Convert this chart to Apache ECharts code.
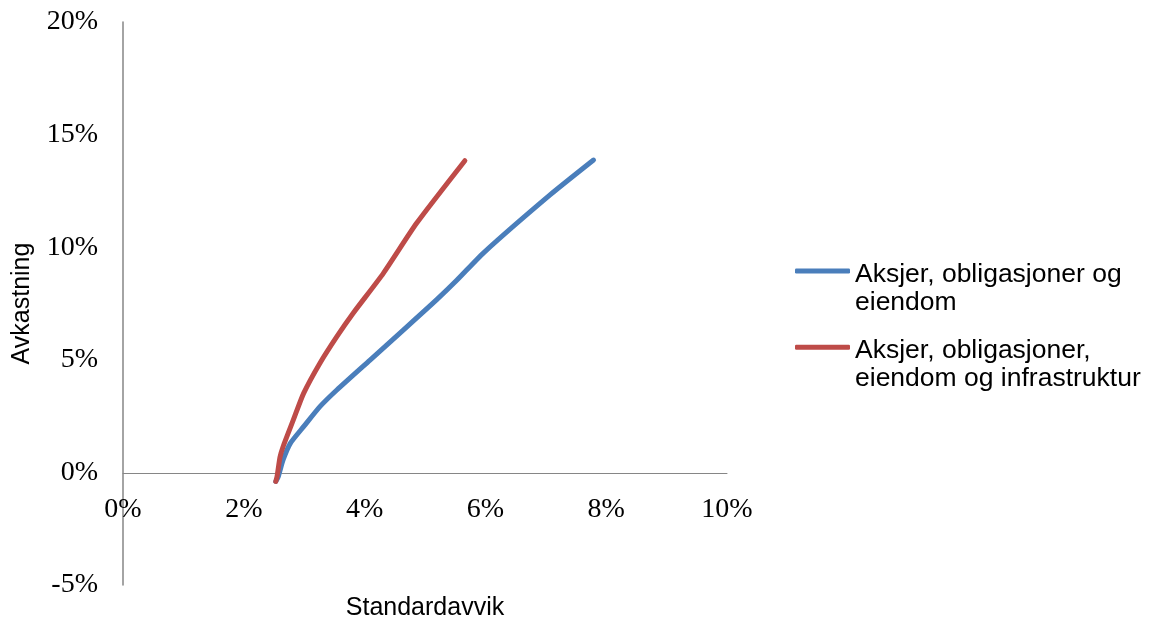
<!DOCTYPE html>
<html>
<head>
<meta charset="utf-8">
<script src="https://cdn.jsdelivr.net/npm/echarts@6/dist/echarts.min.js"></script>
<style>
  html, body { margin: 0; padding: 0; background: #ffffff; }
  #chart { width: 1149px; height: 619px; }
</style>
</head>
<body>
<div id="chart"></div>
<script>
// Efficient frontiers: standard deviation (%) vs expected return (%)
const seriesNames = [
  'Aksjer, obligasjoner og eiendom',
  'Aksjer, obligasjoner, eiendom og infrastruktur'
];
const legendLines = [
  ['Aksjer, obligasjoner og', 'eiendom'],
  ['Aksjer, obligasjoner,', 'eiendom og infrastruktur']
];

// [standard deviation %, return %]
const frontierBase = [
  [2.53, -0.40], [2.57, -0.19], [2.65, 0.55], [2.77, 1.29], [2.99, 2.03],
  [3.26, 2.92], [3.54, 3.66], [4.09, 4.99], [4.64, 6.32], [5.19, 7.66],
  [5.53, 8.54], [5.97, 9.75], [7.07, 12.32], [7.79, 13.87]
];
const frontierInfra = [
  [2.53, -0.40], [2.55, -0.19], [2.60, 0.68], [2.65, 1.14], [2.82, 2.33],
  [2.99, 3.51], [3.26, 4.85], [3.54, 6.03], [3.81, 7.07], [4.31, 8.84],
  [4.86, 11.06], [5.66, 13.84]
];

const xTicks = { min: 0, max: 10, interval: 2 };
const yTicks = { min: -5, max: 20, interval: 5 };

const colors = ['#4A7EBB', '#BE4B48'];
const tickFont = { fontFamily: 'Liberation Serif', fontSize: 28, color: '#000000' };
const sansFont = 'Liberation Sans';

const chart = echarts.init(document.getElementById('chart'), null, { renderer: 'canvas' });

chart.setOption({
  animation: false,
  backgroundColor: '#ffffff',
  color: colors,
  grid: { left: 123, right: 422, top: 22, bottom: 34, containLabel: false, outerBoundsMode: 'none' },
  legend: {
    orient: 'vertical',
    left: 795,
    top: 229,
    padding: 0,
    itemWidth: 55,
    itemHeight: 5,
    itemGap: -11,
    icon: 'roundRect',
    data: seriesNames,
    // a spacer line on top keeps the icon level with the first text line
    formatter: function (name) {
      const lines = legendLines[seriesNames.indexOf(name)];
      return '{s| }\n{t|' + lines[0] + '}\n{t|' + lines[1] + '}';
    },
    textStyle: {
      fontFamily: sansFont, fontSize: 26.5, color: '#000000',
      rich: {
        s: { fontSize: 26.5, lineHeight: 35 },
        t: { fontFamily: sansFont, fontSize: 26.5, color: '#000000', lineHeight: 28.5 }
      }
    }
  },
  xAxis: {
    type: 'value',
    min: xTicks.min, max: xTicks.max, interval: xTicks.interval,
    // the horizontal axis sits at the 0% return level
    offset: -112,
    name: 'Standardavvik',
    nameLocation: 'middle',
    nameGap: 123,
    nameTextStyle: { fontFamily: sansFont, fontSize: 25, color: '#000000' },
    axisLine: { show: true, onZero: false, lineStyle: { color: '#868686', width: 1 } },
    axisTick: { show: false },
    splitLine: { show: false },
    axisLabel: Object.assign({ margin: 23, formatter: '{value}%' }, tickFont)
  },
  yAxis: {
    type: 'value',
    min: yTicks.min, max: yTicks.max, interval: yTicks.interval,
    name: 'Avkastning',
    nameLocation: 'middle',
    nameGap: 88,
    nameTextStyle: { fontFamily: sansFont, fontSize: 25, color: '#000000' },
    axisLine: { show: true, onZero: false, lineStyle: { color: '#868686', width: 1.5 } },
    axisTick: { show: false },
    splitLine: { show: false },
    axisLabel: Object.assign({ margin: 25, formatter: '{value}%' }, tickFont)
  },
  series: [
    {
      name: seriesNames[0], type: 'line', data: frontierBase,
      smooth: 0.2, showSymbol: false, symbol: 'none',
      lineStyle: { width: 5, cap: 'round', join: 'round', color: colors[0] }
    },
    {
      name: seriesNames[1], type: 'line', data: frontierInfra,
      smooth: 0.2, showSymbol: false, symbol: 'none',
      lineStyle: { width: 5, cap: 'round', join: 'round', color: colors[1] }
    }
  ]
});
</script>
</body>
</html>
